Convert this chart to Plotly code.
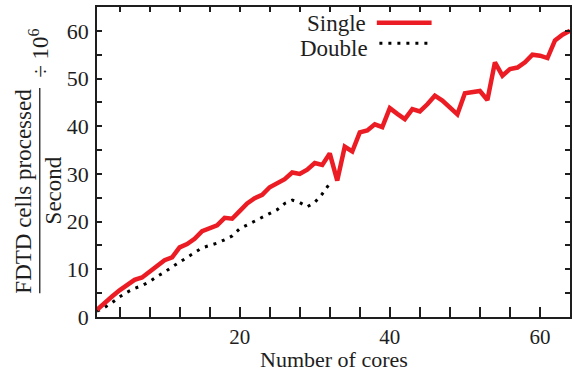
import plotly.graph_objects as go

cores = list(range(1, 65))
single = [1.5, 3.0, 4.3, 5.6, 6.8, 7.8, 8.3, 9.6, 10.8, 11.9,
          12.5, 14.6, 15.3, 16.4, 18.0, 18.6, 19.2, 20.8, 20.6, 22.2,
          23.8, 24.9, 25.6, 27.2, 28.0, 28.9, 30.3, 30.0, 30.9, 32.3,
          31.9, 34.3, 28.6, 35.7, 34.7, 38.7, 39.1, 40.4, 39.8, 43.8,
          42.6, 41.5, 43.6, 43.1, 44.6, 46.4, 45.4, 44.0, 42.5, 46.9,
          47.1, 47.4, 45.5, 53.4, 50.6, 52.0, 52.3, 53.4, 55.0, 54.8,
          54.3, 58.0, 59.2, 60.0]
double_cores = list(range(1, 33))
double = [1.2, 2.0, 3.0, 4.2, 5.2, 6.0, 6.6, 7.4, 8.5, 9.4,
          10.5, 11.5, 12.4, 13.5, 14.5, 15.0, 15.5, 16.2, 17.0, 18.5,
          19.3, 20.1, 21.0, 21.8, 22.5, 23.8, 24.5, 24.0, 23.1, 24.0,
          25.8, 28.0]

x_tickvals = list(range(4, 65, 4))
x_ticktext = [str(v) if v in (20, 40, 60) else " " for v in x_tickvals]
y_tickvals = list(range(0, 65, 5))
y_ticktext = [str(v) if v % 10 == 0 else " " for v in y_tickvals]

FONT = "Liberation Serif"
RED = "#ec1c24"
INK = "#1e1e1e"

fig = go.Figure()
fig.add_trace(go.Scatter(x=double_cores, y=double, mode="lines", name="Double",
                         line=dict(color="black", width=3, dash="3px,6px")))
fig.add_trace(go.Scatter(x=cores, y=single, mode="lines", name="Single",
                         line=dict(color=RED, width=4.5)))
# invisible trace to activate the top tick axis
fig.add_trace(go.Scatter(x=cores, y=single, mode="lines", xaxis="x2", opacity=0,
                         hoverinfo="skip", showlegend=False))

fig.update_layout(
    width=574, height=373,
    margin=dict(l=97, r=2, t=7, b=56),
    paper_bgcolor="white", plot_bgcolor="white",
    showlegend=False,
    font=dict(family=FONT, size=22, color=INK),
    xaxis=dict(range=[1, 64], tickvals=x_tickvals, ticktext=x_ticktext,
               ticks="inside", ticklen=10, tickwidth=1.5, tickcolor=INK,
               showline=True, linecolor=INK, linewidth=1.5, mirror=True,
               showgrid=False, zeroline=False, ticklabelstandoff=0,
               tickfont=dict(size=21)),
    xaxis2=dict(range=[1, 64], overlaying="x", side="top", tickvals=x_tickvals,
                ticks="inside", ticklen=5, tickwidth=1.5, tickcolor=INK,
                showticklabels=False, showgrid=False, zeroline=False, showline=False),
    yaxis=dict(range=[0, 65], tickvals=y_tickvals, ticktext=y_ticktext,
               ticks="inside", ticklen=5, tickwidth=1.5, tickcolor=INK,
               showline=True, linecolor=INK, linewidth=1.5, mirror="ticks",
               showgrid=False, zeroline=False, ticklabelstandoff=2),
)

# X-axis title
fig.add_annotation(xref="paper", yref="paper", x=0.502, y=-0.181, xanchor="center",
                   yanchor="bottom", text="Number of cores", showarrow=False,
                   font=dict(size=22), borderpad=0)

# Legend (text left of sample, as in reference)
fig.add_annotation(xref="paper", yref="paper", x=0.572, y=0.948, xanchor="right",
                   yanchor="middle", text="Single", showarrow=False,
                   font=dict(size=23))
fig.add_annotation(xref="paper", yref="paper", x=0.578, y=0.866, xanchor="right",
                   yanchor="middle", text="Double", showarrow=False,
                   font=dict(size=23))
fig.add_shape(type="line", xref="paper", yref="paper", x0=0.5916, x1=0.7074,
              y0=0.949, y1=0.949, line=dict(color=RED, width=4.5))
fig.add_shape(type="line", xref="paper", yref="paper", x0=0.597, x1=0.7074,
              y0=0.883, y1=0.883, line=dict(color="black", width=3, dash="3px,6px"))

# Y-axis title built as a fraction
fig.add_annotation(xref="paper", yref="paper", x=-0.156, y=0.405, xanchor="center",
                   yanchor="middle", textangle=-90, text="FDTD cells processed",
                   showarrow=False, font=dict(size=23))
fig.add_shape(type="line", xref="paper", yref="paper", x0=-0.121, x1=-0.121,
              y0=0.077, y1=0.739, line=dict(color=INK, width=1.3))
fig.add_annotation(xref="paper", yref="paper", x=-0.092, y=0.41, xanchor="center",
                   yanchor="middle", textangle=-90, text="Second",
                   showarrow=False, font=dict(size=23))
fig.add_annotation(xref="paper", yref="paper", x=-0.122, y=0.85, xanchor="center",
                   yanchor="middle", textangle=-90, text="÷ 10<sup>6</sup>",
                   showarrow=False, font=dict(size=23))

fig.write_html("out.html")
